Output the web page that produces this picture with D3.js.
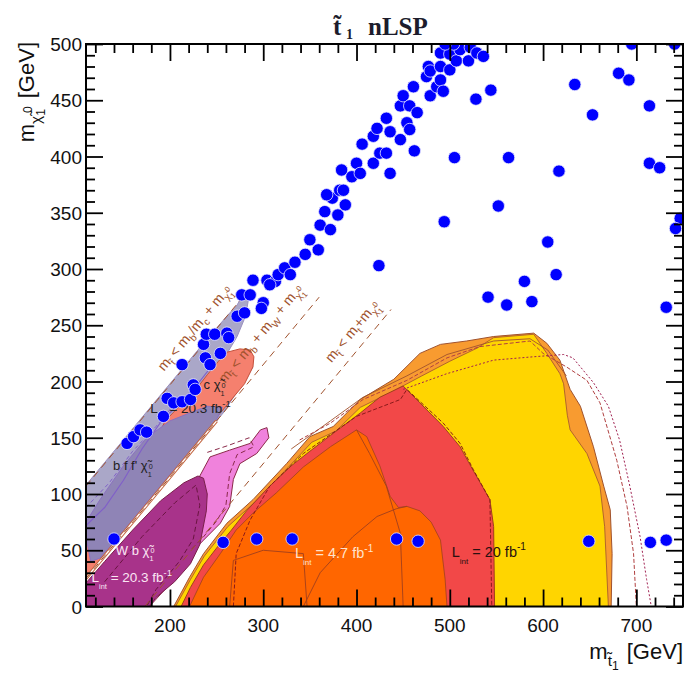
<!DOCTYPE html>
<html><head><meta charset="utf-8">
<script src="https://cdn.jsdelivr.net/npm/d3@7"></script>
<style>body{margin:0;background:#fff} svg{display:block}</style>
</head><body>
<svg id="c" width="687" height="676"></svg>
<script>
// ---------- data (m_stop, m_LSP) in GeV ----------
const xMajor = [200,300,400,500,600,700];
const yMajor = [0,50,100,150,200,250,300,350,400,450,500];

const greyLight = [[110,25],[110,108],[150,148],[200,198],[240,238],[262,259],[272,268],[278,277],[284,272],[281,258],[272,240],[262,226],[289,213],[258,173]];
const salmon = [[110,25],[110,62],[122,70],[140,85],[160,110],[180,140],[195,165],[210,178],[227,192],[240,206],[252,218],[261,226],[275,229],[286,228],[290,222],[289,213],[280,198],[258,176],[200,118],[150,68]];
const purpleDark = [[110,62],[110,75],[125,95],[150,125],[175,150],[200,165],[221,172],[240,178],[256,177],[250,166],[200,117],[150,67],[125,43],[115,40]];
const pink = [[178,0],[200,20],[222,60],[228,100],[232,116],[243,133],[264,139],[286,145],[297,157],[304,159],[306,150],[293,136],[275,127],[268,113],[264,89],[254,74],[236,59],[222,47],[214,35],[189,15],[180,4]];
const magenta = [[110,0],[110,21],[130,40],[160,68],[190,94],[215,110],[230,116],[236,114],[240,100],[239,85],[232,55],[222,38],[205,22],[185,8],[178,0]];
const orangeLight = [[204,0],[221,26],[236,47],[261,74],[289,95],[325,127],[350,151],[375,160],[404,184],[440,202],[468,225],[490,233],[518,236],[547,240],[590,243],[604,234],[618,219],[629,193],[640,178],[654,142],[665,107],[672,86],[674,47],[673,0]];
const yellow = [[206,0],[222,24],[237,45],[262,71],[290,92],[326,123],[352,146],[378,156],[404,177],[436,190],[470,205],[500,218],[530,230],[547,239],[590,242],[604,225],[618,207],[622,198],[626,170],[629,157],[647,136],[661,107],[666,71],[670,0]];
const red = [[212,0],[222,17],[236,37],[250,52],[265,67],[282,85],[307,107],[330,125],[350,138],[372,152],[404,172],[425,186],[450,196],[468,181],[493,160],[511,142],[525,121],[543,95],[547,71],[548,0]];
const orangeDark = [[221,0],[236,26],[254,47],[271,68],[289,83],[314,101],[343,124],[372,142],[400,157],[411,151],[425,125],[436,98],[445,88],[454,89],[468,85],[480,75],[490,59],[495,24],[497,0]];

const contourA = [[400,157],[414,136],[432,107],[447,65],[450,0]];
const contourB = [[343,0],[361,30],[396,62],[422,80],[443,87],[454,89]];
const contourC = [[264,0],[268,41],[300,50],[343,47],[347,0]];
const solidYellowTop = [[330,140],[372,165],[407,186],[454,205],[497,224],[547,236],[586,238],[605,228],[625,205]];
const expRed = [[268,0],[271,47],[286,77],[307,107],[343,136],[400,169],[447,184],[454,193],[493,163],[511,145],[525,122],[543,95],[545,0]];
const expYellowA = [[339,148],[372,163],[407,184],[454,201],[497,221],[532,231],[586,236],[600,225],[625,213],[647,201],[661,181],[679,130],[690,89],[697,47],[700,0]];
const expYellowB = [[450,193],[497,207],[547,219],[590,222],[622,224],[632,221],[654,199],[670,178],[682,148],[693,107],[704,62],[711,24],[716,0]];
const pinkDash = [[240,137],[262,143],[285,150],[290,142],[272,135],[264,118],[260,90],[250,76],[236,62],[222,50]];
const magentaDash = [[130,22],[170,62],[205,92],[228,108],[232,90],[225,60],[210,40],[185,15],[175,0]];
const greyLine = [[110,72],[130,88],[150,112],[170,140],[192,166],[210,180],[228,196],[245,214]];
const greyDash = [[110,88],[135,110],[160,138],[185,160],[210,185]];

const kin1 = [[110,107],[285,282]];   // m_b / m_c
const kin2 = [[110,25],[360,275]];    // m_b + m_W
const kin3 = [[173,0],[437,264]];     // m_t

const dots = [
 [140,60],[257,57],[293,60],[331,60],[443,60],[466,58],[649,58],[715,57],[732,59],
 [154,145],[161,151],[168,157],[175,155],[193,169],[197,185],[204,181],[213,182],[222,184],[225,197],[227,193],
 [213,215],[236,233],[238,221],[243,215],[239,242],[248,242],[254,225],[261,243],[263,239],
 [272,258],[280,261],[277,277],[286,277],[300,270],[298,265],[289,290],[304,290],[313,289],
 [307,286],[316,295],[323,301],[329,295],[334,306],[345,313],[350,326],[359,317],[361,339],[366,351],[372,335],
 [374,363],[380,348],[382,370],[388,357],[368,366],[384,388],[386,370],[395,382],[400,394],[404,385],[406,411],
 [418,418],[418,394],[422,425],[425,403],[432,403],[432,434],[436,422],[436,385],[447,445],[447,415],[450,454],
 [454,430],[457,445],[457,424],[461,462],[465,439],[475,471],[477,480],[479,476],[479,454],[486,462],[490,468],
 [490,480],[490,492],[493,458],[500,477],[500,491],[507,485],[511,495],[520,485],[522,497],[529,492],[536,489],
 [504,500],[495,500],
 [462,405],[505,399],[563,399],[617,387],[714,394],[725,390],[528,451],[544,459],[634,464],[681,474],[692,468],
 [714,445],[653,437],[695,500],[741,500],
 [494,342],[552,356],[605,324],[580,289],[614,295],[588,271],[541,275],[561,268],[732,266],[424,303],[747,345],[742,336]
];

// ---------- drawing ----------
const FONT = "'Liberation Sans', Arial, sans-serif";
const svg = d3.select("#c");
const x = d3.scaleLinear().domain([110,750]).range([86,683]);
const y = d3.scaleLinear().domain([0,500]).range([606.5,44]);
const line = d3.line().x(d=>x(d[0])).y(d=>y(d[1]));
const area = d3.line().x(d=>x(d[0])).y(d=>y(d[1])).curve(d3.curveLinearClosed);

svg.append("defs").append("clipPath").attr("id","clip")
  .append("rect").attr("x",x(110)).attr("y",y(500)).attr("width",x(750)-x(110)).attr("height",y(0)-y(500));
const g = svg.append("g").attr("clip-path","url(#clip)");

function poly(data, fill, stroke, sw){
  g.append("path").attr("d",area(data)).attr("fill",fill).attr("stroke",stroke).attr("stroke-width",sw||1).attr("stroke-linejoin","round");
}
function pl(data, stroke, sw, dash){
  g.append("path").attr("d",line(data)).attr("fill","none").attr("stroke",stroke).attr("stroke-width",sw||1)
   .attr("stroke-dasharray",dash||null);
}

poly(greyLight,"#aaa7c8","#9a90c0",1);
poly(salmon,"#f5806e","#c4503c",1);
poly(purpleDark,"#8f84b6","#8a70c0",1);
pl(greyLine,"#8060c8",1.2);
pl(greyDash,"#8060c8",1,"4,3");
poly(pink,"#f082dc","#8b2a4a",1);
poly(magenta,"#a8338a","#7a1f4a",1);
pl(pinkDash,"#8b2a4a",1,"5,3");
pl(magentaDash,"#6a1540",1,"5,3");

poly(orangeLight,"#f89b30","#a0522d",1);
poly(yellow,"#ffd500","#a0522d",0.8);
poly(red,"#f24848","#a0401d",1);
poly(orangeDark,"#ff6600","#a0401d",0.8);
pl(contourA,"#a0401d",0.9);
pl(contourB,"#a0401d",0.9);
pl(contourC,"#a0401d",0.9);
pl(solidYellowTop,"#a0522d",0.9);
pl(expRed,"#8b1a1a",1,"4,2");
pl(expYellowA,"#b04040",1,"4,2");
pl(expYellowB,"#a02050",1,"2,2");

// kinematic lines
pl([kin2[0],[250,165]],"#c0603a",3.2);
pl([kin2[0],[250,165]],"#ffffff",1.4);
pl(kin1,"#a0522d",1,"7,5");
pl(kin2,"#a0522d",1,"7,5");
pl(kin3,"#a0522d",1,"7,5");

// rich text helper
function rich(parent, parts, size, attrs){
  const t = parent.append("text").attr("font-family",FONT).attr("font-size",size);
  Object.entries(attrs||{}).forEach(([k,v])=>t.attr(k,v));
  const shifts = {n:0, sub:0.3, sup:-0.45, ss:0.5, sp:-0.1};
  const scales = {n:1, sub:0.7, sup:0.7, ss:0.55, sp:0.55};
  let cur = 0;
  parts.forEach(p=>{
    const [s,lvl,dx] = p;
    const sh = shifts[lvl]*size;
    t.append("tspan").attr("dy",(sh-cur).toFixed(2)).attr("dx",dx||0).attr("font-size",(scales[lvl]*size).toFixed(1)).text(s);
    cur = sh;
  });
  return t;
}
const ang = -Math.atan((y(0)-y(100))/(x(200)-x(100)))*180/Math.PI;

function kinLabel(pos, parts){
  const gg = svg.append("g").attr("transform",`translate(${x(pos[0])},${y(pos[1])}) rotate(${ang})`);
  rich(gg, parts, 14, {"text-anchor":"middle","fill":"#a0522d"});
}
const tst = ["t\u0303","sub"];
kinLabel([230,245],[["m","n"],tst,[" < m","n"],["b","sub"],["/m","n"],["c","sub"],[" + m","n"],["\u03C7\u0303","sub"],["1","ss"],["0","sp",-3]]);
kinLabel([301,240],[["m","n"],tst,[" < m","n"],["b","sub"],[" + m","n"],["W","sub"],[" + m","n"],["\u03C7\u0303","sub"],["1","ss"],["0","sp",-3]]);
kinLabel([399,242],[["m","n"],tst,[" < m","n"],["t","sub"],["+m","n"],["\u03C7\u0303","sub"],["1","ss"],["0","sp",-3]]);

// region labels
const labels = [
  {pos:[139,121], parts:[["b f f' ","n"],["\u03C7\u0303","n"],["1","ss"],["0","sp",-3]], fill:"#222", size:13},
  {pos:[236,193], parts:[["c ","n"],["\u03C7\u0303","n"],["1","ss"],["0","sp",-3]], fill:"#222", size:13},
  {pos:[179,172], parts:[["L","n"],["int","ss"],[" = 20.3 fb","n"],["-1","sup"]], fill:"#222", size:13.5},
  {pos:[142,46], parts:[["W b ","n"],["\u03C7\u0303","n"],["1","ss"],["0","sp",-3]], fill:"#fbe6f4", size:13},
  {pos:[116,22], parts:[["L","n"],["int","ss"],[" = 20.3 fb","n"],["-1","sup"]], fill:"#fbe6f4", size:13.5},
  {pos:[334,43], parts:[["L","n"],["int","ss"],[" = 4.7 fb","n"],["-1","sup"]], fill:"#ffe3cc", size:14.5},
  {pos:[502,44], parts:[["L","n"],["int","ss"],[" = 20 fb","n"],["-1","sup"]], fill:"#2a1010", size:14.5}
];
labels.forEach(l=>rich(svg,l.parts,l.size,{x:x(l.pos[0]),y:y(l.pos[1]),fill:l.fill}));

// dots
svg.append("g").attr("clip-path","url(#clip)").selectAll("circle").data(dots).join("circle")
  .attr("cx",d=>x(d[0])).attr("cy",d=>y(d[1])).attr("r",6.2)
  .attr("fill","#0000ff").attr("stroke","#e8e8ff").attr("stroke-width",0.8);

// axes (ticks pointing inward)
const xMinor = d3.range(120,750,20).filter(v=>v%100!==0);
const yMinor = d3.range(10,500,10).filter(v=>v%50!==0);
function ax(make, tr, major, minor){
  [[minor,9],[major,17]].forEach(([vals,len])=>{
    const s = svg.append("g").attr("transform",tr);
    s.call(make().tickValues(vals).tickSize(len).tickFormat(""));
    s.selectAll(".domain").remove();
    s.selectAll("line").attr("stroke","#000").attr("stroke-width",1.8);
  });
}
ax(()=>d3.axisTop(x), `translate(0,${y(0)})`, xMajor, xMinor);
ax(()=>d3.axisBottom(x), `translate(0,${y(500)})`, xMajor, xMinor);
ax(()=>d3.axisRight(y), `translate(${x(110)},0)`, yMajor, yMinor);
ax(()=>d3.axisLeft(y), `translate(${x(750)},0)`, yMajor, yMinor);
svg.append("g").selectAll("text").data(xMajor).join("text")
  .attr("x",d=>x(d)).attr("y",y(0)+25).attr("text-anchor","middle")
  .attr("font-family",FONT).attr("font-size",19).attr("fill","#111").text(d=>d);
svg.append("g").selectAll("text").data(yMajor).join("text")
  .attr("x",x(110)-4).attr("y",d=>y(d)+7).attr("text-anchor","end")
  .attr("font-family",FONT).attr("font-size",19).attr("fill","#111").text(d=>d);
svg.append("rect").attr("x",x(110)).attr("y",y(500)).attr("width",x(750)-x(110)).attr("height",y(0)-y(500))
  .attr("fill","none").attr("stroke","#000").attr("stroke-width",2);

// titles
const tt = svg.append("text").attr("y",35).attr("font-family","'Liberation Serif', 'DejaVu Serif', serif")
  .attr("font-weight","bold").attr("font-size",25).attr("fill","#1c1c2c");
tt.append("tspan").attr("x",333).text("t\u0303");
tt.append("tspan").attr("x",346).attr("font-size",14).attr("dy",4).text("1");
tt.append("tspan").attr("x",368).attr("dy",-4).text("nLSP");

rich(svg,[["m","n"],["t\u0303","sub"],["1","ss"],[" [GeV]","n",2]],22,{x:683,y:659,"text-anchor":"end",fill:"#111"});
const yl = svg.append("g").attr("transform","translate(34,42) rotate(-90)");
rich(yl,[["m","n"],["\u03C7\u0303","sub"],["1","ss"],["0","sp",-4],[" [GeV]","n",2]],22,{x:0,y:0,"text-anchor":"end",fill:"#111"});
</script>
</body></html>
